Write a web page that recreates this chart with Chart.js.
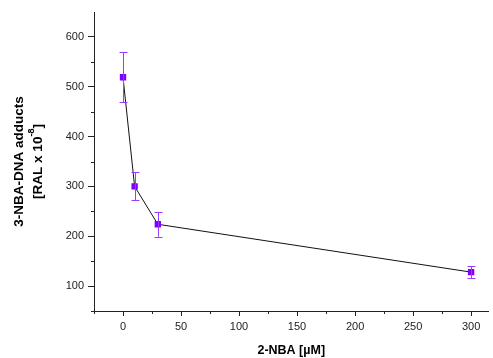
<!DOCTYPE html>
<html>
<head>
<meta charset="utf-8">
<script src="https://cdn.jsdelivr.net/npm/chart.js@4.4.0/dist/chart.umd.min.js"></script>
<style>
  html, body { margin: 0; padding: 0; background: #fff; }
  canvas { display: block; }
</style>
</head>
<body>
<canvas id="nbaChart" width="493" height="358"></canvas>
<script>
// data
const concentrations = [0, 10, 30, 300];      // 2-NBA [uM]
const adducts = [519, 300, 224, 128];         // RAL x 10^-8
const errors = [50, 28, 25, 12];

const xTicks = [-25, 0, 25, 50, 75, 100, 125, 150, 175, 200, 225, 250, 275, 300];
const yTicks = [50, 100, 150, 200, 250, 300, 350, 400, 450, 500, 550, 600];

const markerColor = '#7F00FF';
const errorColor = '#9A3CFF';

// error bars + minor ticks + y title (needs a superscript)
const extras = {
    id: 'extras',
    afterDatasetsDraw(chart) {
        const ctx = chart.ctx;
        const xs = chart.scales.x, ys = chart.scales.y;
        ctx.save();
        ctx.strokeStyle = errorColor;
        ctx.lineWidth = 1;
        for (let i = 0; i < concentrations.length; i++) {
            const px = Math.round(xs.getPixelForValue(concentrations[i])) + 0.5;
            const top = ys.getPixelForValue(adducts[i] + errors[i]);
            const bot = ys.getPixelForValue(adducts[i] - errors[i]);
            ctx.beginPath();
            ctx.moveTo(px, top); ctx.lineTo(px, bot);
            ctx.moveTo(px - 4, Math.round(top) + 0.5); ctx.lineTo(px + 4, Math.round(top) + 0.5);
            ctx.moveTo(px - 4, Math.round(bot) + 0.5); ctx.lineTo(px + 4, Math.round(bot) + 0.5);
            ctx.stroke();
        }
        ctx.restore();
    },
    afterDraw(chart) {
        const ctx = chart.ctx;
        const xs = chart.scales.x, ys = chart.scales.y;
        const area = chart.chartArea;
        ctx.save();
        ctx.strokeStyle = '#222';
        ctx.lineWidth = 1;
        // minor ticks
        xTicks.forEach(v => {
            if (v % 50 !== 0) {
                const px = Math.round(xs.getPixelForValue(v)) + 0.5;
                ctx.beginPath();
                ctx.moveTo(px, area.bottom); ctx.lineTo(px, area.bottom + 3);
                ctx.stroke();
            }
        });
        yTicks.forEach(v => {
            if (v % 100 !== 0) {
                const py = Math.round(ys.getPixelForValue(v)) + 0.5;
                ctx.beginPath();
                ctx.moveTo(area.left, py); ctx.lineTo(area.left - 3, py);
                ctx.stroke();
            }
        });

        // y title, two lines, rotated
        const cy = (area.top + area.bottom) / 2;
        ctx.fillStyle = '#000';
        ctx.translate(0, cy);
        ctx.rotate(-Math.PI / 2);
        ctx.textAlign = 'center';
        ctx.textBaseline = 'middle';
        ctx.font = 'bold 13.5px "Liberation Sans", Arial, sans-serif';
        ctx.fillText('3-NBA-DNA adducts', 0, 19);

        const main = '[RAL x 10';
        const sup = '-8';
        const close = ']';
        ctx.font = 'bold 13.5px "Liberation Sans", Arial, sans-serif';
        const wMain = ctx.measureText(main).width;
        const wClose = ctx.measureText(close).width;
        ctx.font = 'bold 9px "Liberation Sans", Arial, sans-serif';
        const wSup = ctx.measureText(sup).width;
        let x0 = -(wMain + wSup + wClose) / 2;
        ctx.textAlign = 'left';
        ctx.font = 'bold 13.5px "Liberation Sans", Arial, sans-serif';
        ctx.fillText(main, x0, 38);
        ctx.font = 'bold 9px "Liberation Sans", Arial, sans-serif';
        ctx.fillText(sup, x0 + wMain, 32);
        ctx.font = 'bold 13.5px "Liberation Sans", Arial, sans-serif';
        ctx.fillText(close, x0 + wMain + wSup, 38);
        ctx.restore();
    }
};

new Chart(document.getElementById('nbaChart'), {
    type: 'line',
    data: {
        datasets: [{
            data: concentrations.map((c, i) => ({ x: c, y: adducts[i] })),
            borderColor: '#111',
            borderWidth: 1,
            tension: 0,
            pointStyle: 'rect',
            pointRadius: 4.5,
            pointBackgroundColor: markerColor,
            pointBorderColor: markerColor,
            pointBorderWidth: 0
        }]
    },
    options: {
        responsive: false,
        animation: false,
        layout: { padding: { top: 12, right: 0, left: 0, bottom: 0 } },
        plugins: {
            legend: { display: false },
            tooltip: { enabled: false }
        },
        scales: {
            x: {
                type: 'linear',
                min: -25,
                max: 315,
                afterBuildTicks: axis => { axis.ticks = xTicks.map(v => ({ value: v })); },
                afterFit: axis => { axis.height = 47; },
                grid: {
                    drawOnChartArea: false,
                    drawTicks: true,
                    tickLength: 5,
                    color: ctx => (ctx.tick && ctx.tick.value % 50 === 0) ? '#222' : 'rgba(0,0,0,0)'
                },
                border: { display: true, color: '#222', width: 1 },
                ticks: {
                    autoSkip: false,
                    maxRotation: 0,
                    padding: 4,
                    color: '#222',
                    font: { family: '"Liberation Sans", Arial, sans-serif', size: 11 },
                    callback: v => (v % 50 === 0 ? String(v) : '')
                },
                title: {
                    display: true,
                    text: '2-NBA [\u00B5M]',
                    color: '#000',
                    padding: { top: 6, bottom: 0 },
                    font: { family: '"Liberation Sans", Arial, sans-serif', size: 12.5, weight: 'bold' }
                }
            },
            y: {
                type: 'linear',
                min: 50,
                max: 650,
                afterBuildTicks: axis => { axis.ticks = yTicks.map(v => ({ value: v })); },
                afterFit: axis => { axis.width = 94; },
                grid: {
                    drawOnChartArea: false,
                    drawTicks: true,
                    tickLength: 6,
                    color: ctx => (ctx.tick && ctx.tick.value % 100 === 0) ? '#222' : 'rgba(0,0,0,0)'
                },
                border: { display: true, color: '#222', width: 1 },
                ticks: {
                    autoSkip: false,
                    padding: 4,
                    color: '#222',
                    font: { family: '"Liberation Sans", Arial, sans-serif', size: 11 },
                    callback: v => (v % 100 === 0 ? String(v) : '')
                }
            }
        }
    },
    plugins: [extras]
});
</script>
</body>
</html>
